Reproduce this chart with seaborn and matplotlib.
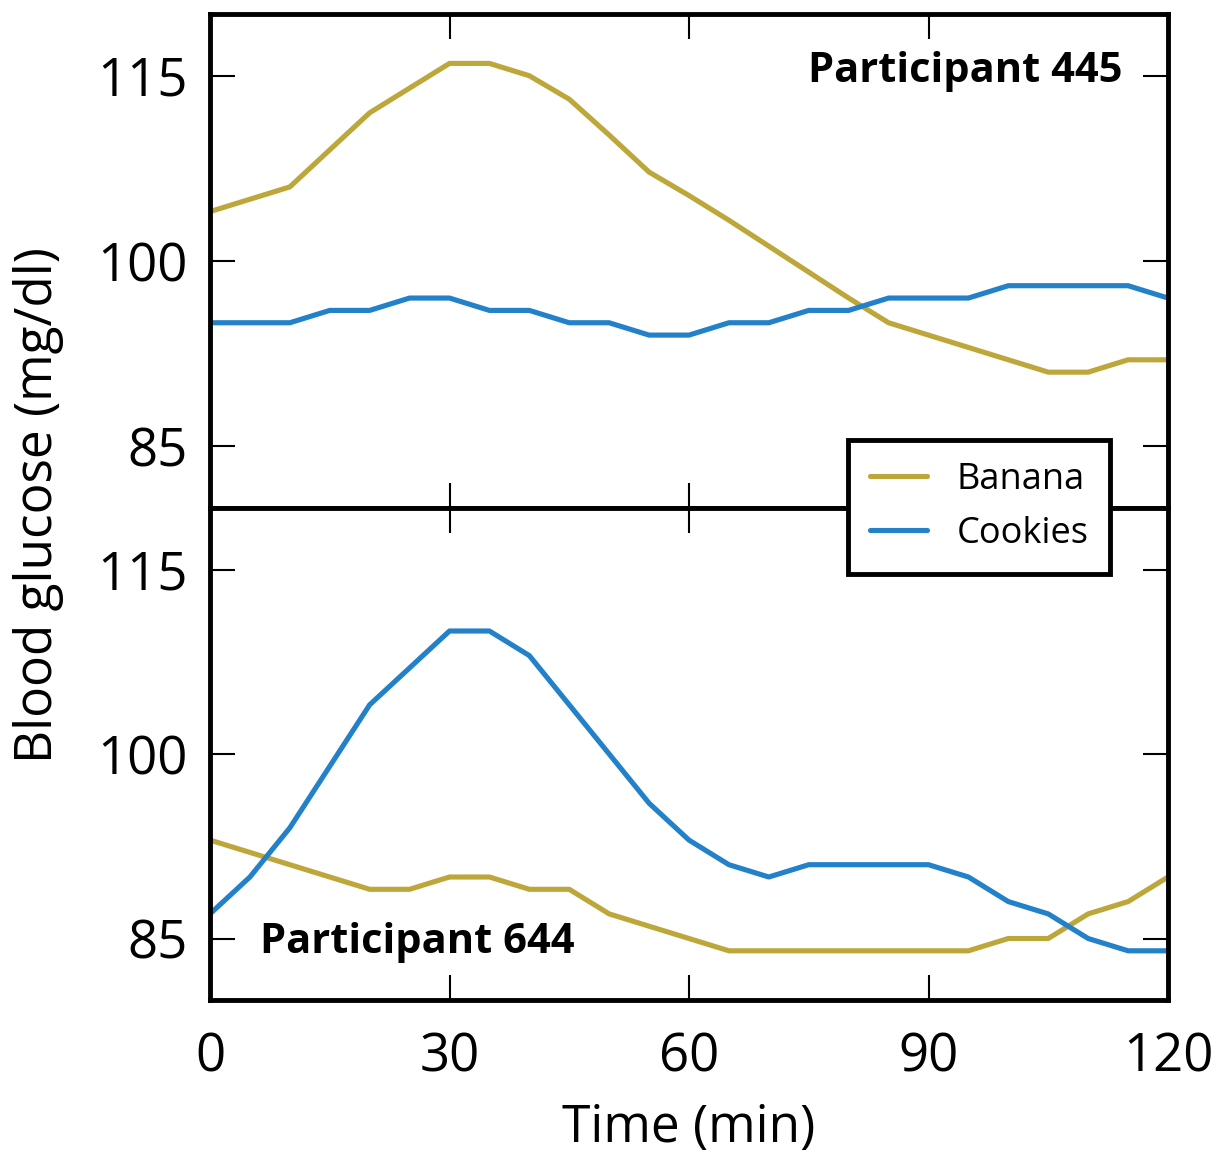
import numpy as np
import pandas as pd
from matplotlib import pyplot as plt
import seaborn as sns

sns.set_style('ticks')
plt.rcParams['font.family'] = ['Open Sans', 'DejaVu Sans']
plt.rcParams['text.color'] = 'black'
plt.rcParams['xtick.color'] = 'black'
plt.rcParams['ytick.color'] = 'black'
plt.rcParams['axes.labelcolor'] = 'black'

time = [0, 5, 10, 15, 20, 25, 30, 35, 40, 45, 50, 55, 60, 65, 70, 75, 80, 85, 90, 95, 100, 105, 110, 115, 120]
# participant 445
banana_445 = [104, 105, 106, 109, 112, 114, 116, 116, 115, 113.1, 110.2, 107.2, 105.3, 103.3, 101.2, 99.1, 97, 95, 94, 93, 92, 91, 91, 92, 92]
cookies_445 = [95, 95, 95, 96, 96, 97, 97, 96, 96, 95, 95, 94, 94, 95, 95, 96, 96, 97, 97, 97, 98, 98, 98, 98, 97]
# participant 644
banana_644 = [93, 92, 91, 90, 89, 89, 90, 90, 89, 89, 87, 86, 85, 84, 84, 84, 84, 84, 84, 84, 85, 85, 87, 88, 90]
cookies_644 = [87, 90, 94, 99, 104, 107, 110, 110, 108, 104, 100, 96, 93, 91, 90, 91, 91, 91, 91, 90, 88, 87, 85, 84, 84]

colors = {'Banana': '#bda73a', 'Cookies': '#2281c9'}

fig = plt.figure(figsize=(12.29, 11.55), dpi=100)
ax1 = fig.add_axes([210/1229, 1-508/1155, 958/1229, 494/1155])
ax2 = fig.add_axes([210/1229, 1-1000/1155, 958/1229, 492/1155])

panels = [(ax1, banana_445, cookies_445), (ax2, banana_644, cookies_644)]
for ax, ban, coo in panels:
    df = pd.DataFrame({'time': time * 2,
                       'glucose': ban + coo,
                       'food': ['Banana'] * len(time) + ['Cookies'] * len(time)})
    sns.lineplot(data=df, x='time', y='glucose', hue='food', palette=colors,
                 linewidth=3.7, ax=ax, legend=(ax is ax1))
    ax.set_xlim(0, 120)
    ax.set_ylim(80, 120)
    ax.set_yticks([85, 100, 115])
    ax.set_xticks([0, 30, 60, 90, 120])
    ax.tick_params(direction='in', length=18, width=1.5, top=True, right=True,
                   labelsize=38)
    ax.tick_params(axis='y', pad=16)
    ax.tick_params(axis='x', pad=22)
    for s in ax.spines.values():
        s.set_linewidth(3.5)
        s.set_color('black')
    ax.set_xlabel('')
    ax.set_ylabel('')

ax1.tick_params(labelbottom=False)
ax2.set_xlabel('Time (min)', fontsize=37, labelpad=14)
fig.text(0.031, 1-505/1155, 'Blood glucose (mg/dl)', rotation=90, fontsize=37,
         ha='center', va='center')

ax1.text(0.953, 0.883, 'Participant 445', transform=ax1.transAxes, ha='right',
         va='center', fontsize=30, fontweight='bold')
ax2.text(0.052, 0.116, 'Participant 644', transform=ax2.transAxes, ha='left',
         va='center', fontsize=30, fontweight='bold')

h, l = ax1.get_legend_handles_labels()
ax1.get_legend().remove()
leg = fig.legend(h, l, loc='center', bbox_to_anchor=(979/1229, 1-507/1155),
                 fontsize=26, frameon=True, fancybox=False, handlelength=1.6,
                 borderpad=0.6, labelspacing=0.5)
leg.get_frame().set_edgecolor('black')
leg.get_frame().set_linewidth(3.5)
leg.get_frame().set_alpha(1)
leg.set_zorder(10)

fig.savefig('out.png', dpi=100)
